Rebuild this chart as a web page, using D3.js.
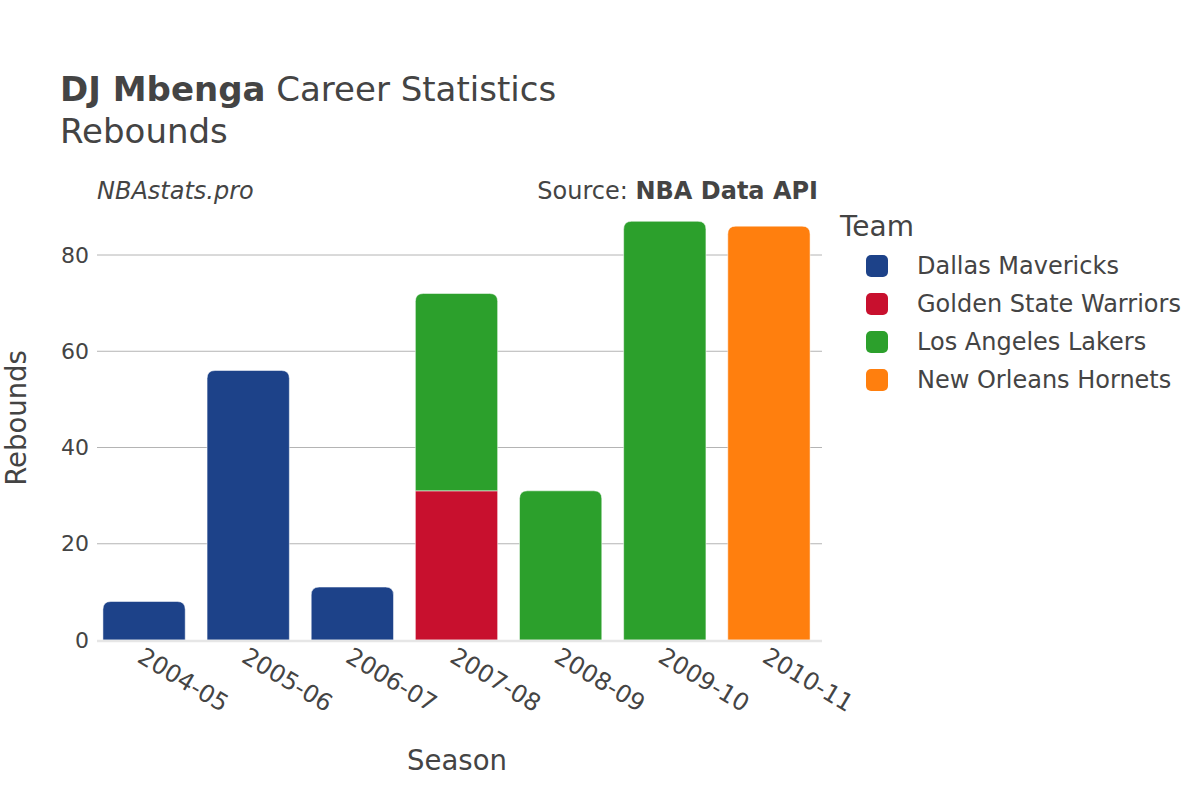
<!DOCTYPE html>
<html>
<head>
<meta charset="utf-8">
<script src="https://cdn.jsdelivr.net/npm/d3@7"></script>
<style>
  body { margin: 0; background: #fff; }
  text { font-family: "DejaVu Sans", sans-serif; fill: #444; }
</style>
</head>
<body>
<svg id="chart" width="1200" height="800"></svg>
<script>
var seasons = ["2004-05", "2005-06", "2006-07", "2007-08", "2008-09", "2009-10", "2010-11"];
var teams = ["Dallas Mavericks", "Golden State Warriors", "Los Angeles Lakers", "New Orleans Hornets"];
var teamColors = ["#1d4289", "#c8102e", "#2ca02c", "#ff7f0e"];
// rebounds per season for each team (0 = not on that team)
var dallas   = [8, 56, 11, 0, 0, 0, 0];
var golden   = [0, 0, 0, 31, 0, 0, 0];
var lakers   = [0, 0, 0, 41, 31, 87, 0];
var hornets  = [0, 0, 0, 0, 0, 0, 86];
var yTicks = [0, 20, 40, 60, 80];

var series = [dallas, golden, lakers, hornets];

var plotLeft = 97, plotRight = 822;

var svg = d3.select("#chart");

var x = d3.scaleBand()
    .domain(seasons)
    .range([92, 821])
    .paddingInner(0.21)
    .paddingOuter(0.105);

var y = d3.scaleLinear()
    .domain([0, 80])
    .range([640, 255]);

var color = d3.scaleOrdinal().domain(teams).range(teamColors);

// grid
svg.append("g").selectAll("line")
    .data(yTicks.slice(1))
  .enter().append("line")
    .attr("x1", plotLeft).attr("x2", plotRight)
    .attr("y1", function(d) { return y(d); })
    .attr("y2", function(d) { return y(d); })
    .attr("stroke", "#b4b4b4")
    .attr("stroke-width", 1);

// y tick labels
svg.append("g").selectAll("text")
    .data(yTicks)
  .enter().append("text")
    .attr("x", plotLeft - 8)
    .attr("y", function(d) { return y(d); })
    .attr("dy", "0.35em")
    .attr("text-anchor", "end")
    .style("font-size", "22px")
    .text(function(d) { return d; });

// stacked segments
var stackRows = seasons.map(function(s, i) {
  var row = {season: s};
  teams.forEach(function(t, j) { row[t] = series[j][i]; });
  return row;
});
var stacked = d3.stack().keys(teams)(stackRows);

// which team is on top of each bar
var topTeam = seasons.map(function(s, i) {
  var top = null;
  teams.forEach(function(t, j) { if (series[j][i] > 0) top = j; });
  return top;
});

function segPath(x0, w, yTop, yBot, r) {
  r = Math.min(r, (yBot - yTop), w / 2);
  return "M" + x0 + "," + yBot +
    "V" + (yTop + r) +
    "Q" + x0 + "," + yTop + " " + (x0 + r) + "," + yTop +
    "H" + (x0 + w - r) +
    "Q" + (x0 + w) + "," + yTop + " " + (x0 + w) + "," + (yTop + r) +
    "V" + yBot + "Z";
}

stacked.forEach(function(layer, j) {
  svg.append("g").selectAll("path")
      .data(layer.filter(function(d) { return d[1] - d[0] > 0; }))
    .enter().append("path")
      .attr("fill", color(teams[j]))
      .attr("stroke", "#fff")
      .attr("stroke-width", 0.5)
      .attr("d", function(d) {
        var i = seasons.indexOf(d.data.season);
        var r = topTeam[i] === j ? 8 : 0;
        return segPath(x(d.data.season), x.bandwidth(), y(d[1]), y(d[0]), r);
      });
});

// zero line
svg.append("line")
    .attr("x1", plotLeft).attr("x2", plotRight)
    .attr("y1", y(0) + 1).attr("y2", y(0) + 1)
    .attr("stroke", "#e6e6e6")
    .attr("stroke-width", 2.5);

// x tick labels
svg.append("g").selectAll("text")
    .data(seasons)
  .enter().append("text")
    .attr("transform", function(d) {
      return "translate(" + (x(d) + x.bandwidth() / 2 - 8) + ",661) rotate(31)";
    })
    .style("font-size", "24px")
    .text(function(d) { return d; });

// titles
var title = svg.append("text").attr("x", 60).attr("y", 101).style("font-size", "34px");
title.append("tspan").style("font-weight", "bold").text("DJ Mbenga");
title.append("tspan").text(" Career Statistics");
svg.append("text").attr("x", 60).attr("y", 143).style("font-size", "34px").text("Rebounds");

svg.append("text").attr("x", 97).attr("y", 199)
    .style("font-size", "24px").style("font-style", "italic").text("NBAstats.pro");
var src = svg.append("text").attr("x", 818).attr("y", 199)
    .attr("text-anchor", "end").style("font-size", "24px");
src.append("tspan").text("Source: ");
src.append("tspan").style("font-weight", "bold").text("NBA Data API");

svg.append("text").attr("x", 457).attr("y", 770)
    .attr("text-anchor", "middle").style("font-size", "27.5px").text("Season");
svg.append("text")
    .attr("transform", "translate(26,418) rotate(-90)")
    .attr("text-anchor", "middle").style("font-size", "27.5px").text("Rebounds");

// legend
svg.append("text").attr("x", 840).attr("y", 236).style("font-size", "28px").text("Team");
var legend = svg.selectAll(".legend")
    .data(teams)
  .enter().append("g")
    .attr("class", "legend")
    .attr("transform", function(d, i) { return "translate(866," + (266 + i * 38) + ")"; });
legend.append("rect")
    .attr("x", 0).attr("y", -11)
    .attr("width", 22).attr("height", 22)
    .attr("rx", 5)
    .attr("fill", function(d) { return color(d); });
legend.append("text")
    .attr("x", 51).attr("dy", "0.35em")
    .style("font-size", "24px")
    .text(function(d) { return d; });
</script>
</body>
</html>
